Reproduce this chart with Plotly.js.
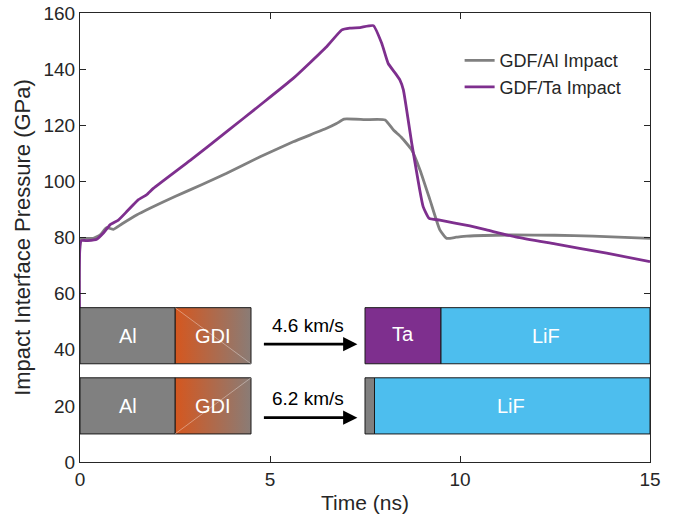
<!DOCTYPE html>
<html>
<head>
<meta charset="utf-8">
<script src="https://cdn.plot.ly/plotly-3.0.1.min.js"></script>
<style>body{margin:0;padding:0;background:#fff;} #chart{width:675px;height:523px;}</style>
</head>
<body>
<div id="chart"></div>
<script>
// ---- data ----
const timeAl = [0, 0.03, 0.2, 0.35, 0.53, 0.7, 0.88, 1.1, 1.49, 1.84, 2.5, 3.2, 3.86, 4.74, 5.61, 6.49, 6.75, 6.95, 7.5, 8.03, 8.25, 8.45, 8.73, 8.95, 9.21, 9.47, 9.65, 9.9, 10.18, 11.4, 12.5, 13.5, 15];
const pressAl = [40, 79.5, 79.7, 79.7, 80.9, 83.5, 82.9, 84.8, 88, 90.4, 94.6, 98.8, 102.9, 108.8, 114.1, 118.9, 120.6, 122.2, 122.0, 121.9, 118.3, 115.8, 111.2, 104, 93.4, 82.7, 79.7, 80.1, 80.5, 80.9, 80.8, 80.5, 79.7];

const timeTa = [0, 0.03, 0.2, 0.44, 0.61, 0.79, 1.01, 1.25, 1.53, 1.75, 1.93, 2.9, 3.86, 4.75, 5.61, 6.49, 6.89, 7.1, 7.37, 7.72, 7.94, 8.11, 8.3, 8.42, 8.51, 8.73, 9.03, 9.19, 9.47, 10.26, 10.7, 11.49, 12.5, 13.86, 15];
const pressTa = [40, 78.8, 78.9, 79.4, 81.5, 84.5, 86.2, 89.5, 93.4, 95.2, 97.5, 107.5, 117.7, 127.3, 136.7, 148, 154, 154.6, 154.8, 155.5, 149.2, 142, 138.5, 136.1, 132.6, 113.6, 91, 86.8, 86.2, 84.1, 82.7, 80.1, 77.7, 74.4, 71.4];

const seriesNames = ["GDF/Al Impact", "GDF/Ta Impact"];
const xTicks = [0, 5, 10, 15];
const yTicks = [0, 20, 40, 60, 80, 100, 120, 140, 160];

// schematic labels
const velocityLabels = ["4.6 km/s", "6.2 km/s"];

const FONT = "Liberation Sans, Arial, Helvetica, sans-serif";
const AXC = "#262626";
const EDGE = "#1a1a1a";

// schematic geometry (layout only)
const rowTop = {y0: 35, y1: 55};
const rowBot = {y0: 10, y1: 30};

function rect(x0, x1, row, fill) {
  return {type: "rect", xref: "x", yref: "y", x0: x0, x1: x1, y0: row.y0, y1: row.y1,
          fillcolor: fill, line: {color: EDGE, width: 1}, layer: "above"};
}
function diag(x0, y0, x1, y1) {
  return {type: "line", xref: "x", yref: "y", x0: x0, y0: y0, x1: x1, y1: y1,
          line: {color: "rgba(255,255,255,0.45)", width: 0.8}, layer: "above"};
}
function gdiTrace(row) {
  return {x: [2.5, 4.5, 4.5, 2.5, 2.5], y: [row.y0, row.y0, row.y1, row.y1, row.y0],
          mode: "lines", fill: "toself", showlegend: false, hoverinfo: "skip",
          line: {color: EDGE, width: 1},
          fillgradient: {type: "horizontal", colorscale: [[0, "#D5571F"], [1, "#8A7C76"]]}};
}
function label(x, y, txt, color, size) {
  return {x: x, y: y, xref: "x", yref: "y", text: txt, showarrow: false,
          font: {family: FONT, size: size, color: color}};
}
function arrow(x0, x1, y) {
  return {x: x1, y: y, ax: x0, ay: y, xref: "x", yref: "y", axref: "x", ayref: "y",
          text: "", showarrow: true, arrowhead: 2, arrowsize: 1.1, arrowwidth: 2.6, arrowcolor: "#000"};
}

const traces = [
  {x: timeAl, y: pressAl, name: seriesNames[0], mode: "lines", line: {color: "#808080", width: 2.8, shape: "spline", smoothing: 0.4}},
  {x: timeTa, y: pressTa, name: seriesNames[1], mode: "lines", line: {color: "#7E2F8E", width: 2.8, shape: "spline", smoothing: 0.4}},
  gdiTrace(rowTop),
  gdiTrace(rowBot)
];

const shapes = [
  rect(0, 2.5, rowTop, "#808080"),
  rect(7.5, 9.5, rowTop, "#7E2F8E"),
  rect(9.5, 15, rowTop, "#4DBEEE"),
  rect(0, 2.5, rowBot, "#808080"),
  rect(7.5, 7.75, rowBot, "#808080"),
  rect(7.75, 15, rowBot, "#4DBEEE"),
  diag(2.5, rowTop.y1, 4.5, rowTop.y0),
  diag(2.5, rowBot.y0, 4.5, rowBot.y1)
];

const annotations = [
  label(1.25, 45, "Al", "#fff", 20),
  label(3.5, 45, "GDI", "#fff", 20),
  label(8.5, 45.5, "Ta", "#fff", 20),
  label(12.25, 45, "LiF", "#fff", 20),
  label(1.25, 20, "Al", "#fff", 20),
  label(3.5, 20, "GDI", "#fff", 20),
  label(11.35, 20, "LiF", "#fff", 20),
  label(6.0, 48.6, velocityLabels[0], "#000", 19),
  label(6.0, 22.8, velocityLabels[1], "#000", 19),
  arrow(4.8, 7.3, 42.0),
  arrow(4.8, 7.3, 15.8)
];

const layout = {
  width: 675, height: 523,
  margin: {l: 80, r: 25, t: 13, b: 61, pad: 0},
  paper_bgcolor: "#fff", plot_bgcolor: "#fff",
  font: {family: FONT, color: AXC, size: 18},
  showlegend: true,
  legend: {x: 0.666, y: 0.935, xanchor: "left", yanchor: "top", bgcolor: "rgba(255,255,255,0)",
           font: {family: FONT, size: 18, color: AXC}, itemwidth: 30, tracegroupgap: 0},
  xaxis: {range: [0, 15], tickvals: xTicks, ticks: "inside", ticklen: 6, tickcolor: AXC,
          showline: true, mirror: "ticks", linecolor: AXC, linewidth: 1, showgrid: false, zeroline: false,
          tickfont: {family: FONT, size: 19, color: AXC},
          title: {text: "Time (ns)", font: {family: FONT, size: 21, color: AXC}, standoff: 6}},
  yaxis: {range: [0, 160], tickvals: yTicks, ticks: "inside", ticklen: 6, tickcolor: AXC,
          showline: true, mirror: "ticks", linecolor: AXC, linewidth: 1, showgrid: false, zeroline: false,
          tickfont: {family: FONT, size: 19, color: AXC},
          title: {text: "Impact Interface Pressure (GPa)", font: {family: FONT, size: 22, color: AXC}, standoff: 6}},
  shapes: shapes,
  annotations: annotations
};

Plotly.newPlot("chart", traces, layout, {displayModeBar: false, staticPlot: true});
</script>
</body>
</html>
